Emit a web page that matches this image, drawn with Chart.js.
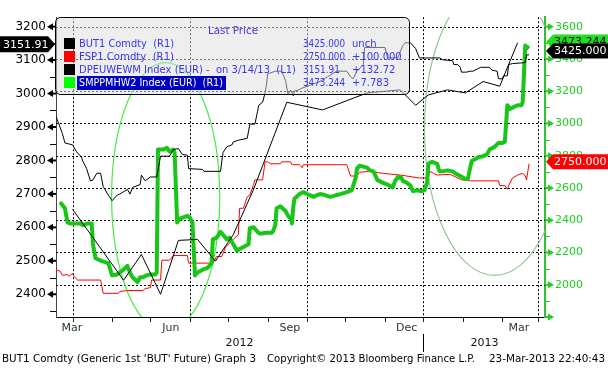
<!DOCTYPE html>
<html><head><meta charset="utf-8">
<script src="https://cdn.jsdelivr.net/npm/chart.js@4.4.1/dist/chart.umd.min.js"></script>
<style>html,body{margin:0;padding:0;background:#fff;overflow:hidden}canvas{display:block}</style>
</head><body>
<canvas id="c" width="608" height="369"></canvas>
<script>
// x values: calendar days since 2012-02-17
const butDays = [0,2,5,7,13,16,20,21,24,27,29,32,35,37,41,44,48,50,56,58,60,66,67,70,74,79,82,89,92,96,99,103,104,115,116,129,130,131,134,138,139,143,150,152,156,158,159,162,164,165,166,172,177,180,182,184,186,187,190,193,199,207,213,220,228,231,233,236,241,242,258,260,268,272,274,278,282,285,301,303,311,312,315,317,318,322,325,327,333,340,342,346,347,350,351,354,355,358,368,369,371];
const butValues = [3043,3002,2937,2879,2867,2826,2791,2767,2720,2644,2650,2691,2691,2609,2556,2521,2556,2562,2591,2562,2603,2621,2679,2644,2668,2668,2797,2797,2838,2844,2808,2803,2720,2715,2703,2703,2762,2820,2855,2867,2885,2896,2908,2996,2996,3072,3113,3131,3190,3236,3307,3324,3324,3266,3178,3207,3172,3201,3207,3219,3236,3260,3289,3324,3324,3289,3277,3324,3365,3471,3471,3406,3406,3483,3500,3500,3465,3406,3406,3395,3389,3365,3365,3348,3318,3318,3324,3324,3348,3348,3330,3324,3277,3277,3295,3295,3365,3371,3377,3425,3425];

const dpeDays = [13,53,67,82,96,111,125,139,155,181,209,244,270,282,292,307,321,335,348,362];
const dpeValues = [2654,2442,2519,2400,2561,2564,2499,2578,2714,2974,2951,3002,3011,2965,2996,3011,3002,3036,3022,3151.91];

const fspDays = [0,3,5,9,10,13,14,17,35,37,49,50,56,68,70,74,75,82,83,89,92,103,104,123,126,130,133,139,143,144,147,150,152,155,156,162,164,166,168,176,177,184,185,191,193,194,228,231,236,238,246,256,270,285,292,293,296,299,309,315,318,325,347,348,352,354,355,358,362,366,368,369,371];
const fspValues = [2087,2087,2058,2064,2052,2070,2052,2029,2029,1947,1947,1958,1964,1964,1976,1982,2029,2029,2152,2152,2181,2181,2134,2134,2175,2175,2234,2281,2310,2474,2474,2545,2556,2621,2650,2650,2762,2762,2750,2750,2762,2762,2744,2744,2726,2744,2744,2674,2674,2697,2703,2691,2680,2662,2662,2703,2691,2680,2685,2662,2650,2644,2644,2615,2615,2592,2615,2662,2680,2691,2674,2650,2750];

const smpDays = [4,7,9,11,19,21,25,28,29,31,36,41,44,48,52,56,58,60,64,66,68,71,74,78,79,80,84,87,89,92,93,95,97,103,105,107,109,111,115,119,122,123,126,129,131,134,136,139,142,144,147,151,152,155,158,160,165,169,170,172,173,176,180,182,184,185,186,187,191,194,197,202,205,207,211,215,220,223,228,232,235,236,238,241,244,246,249,252,256,260,264,266,268,271,272,275,278,280,283,287,289,291,292,295,299,300,301,303,307,311,313,317,321,323,325,326,329,331,335,338,340,344,347,350,352,354,356,362,365,366,368,369,370];
const smpValues = [2504,2474,2386,2380,2380,2369,2380,2380,2251,2164,2146,2134,2058,2064,2087,2117,2076,2046,2017,2046,2046,2058,2064,2064,2076,2838,2838,2849,2826,2838,2820,2386,2410,2427,2416,2386,2058,2076,2093,2105,2134,2281,2292,2328,2310,2281,2292,2251,2210,2222,2234,2251,2351,2357,2328,2316,2322,2322,2328,2369,2474,2486,2457,2427,2410,2380,2474,2533,2562,2574,2562,2545,2556,2562,2556,2545,2556,2562,2574,2586,2662,2720,2738,2732,2726,2709,2703,2650,2633,2621,2603,2644,2668,2662,2644,2633,2615,2580,2586,2580,2586,2633,2750,2762,2750,2720,2703,2703,2709,2703,2691,2674,2656,2656,2732,2767,2779,2791,2797,2808,2838,2855,2879,2879,2885,3113,3090,3113,3113,3131,3483,3466,3473.244];

// axes / ticks
const xMonthDays = [13,44,74,105,135,166,197,227,258,288,319,350,378];
const xGridDays = [13,105,197,288,378];
const xLabelDays = [12.5,90,183.5,275,363];
const xLabels = ['Mar','Jun','Sep','Dec','Mar'];
const yearLabelDays = [144,336];
const yearLabels = ['2012','2013'];
const yearBreakDay = 288;
const leftMajor = [2400,2500,2600,2700,2800,2900,3000,3100,3200];
const leftMinor = [2350,2450,2550,2650,2750,2850,2950,3050,3150];
const rightMajor = [1800,2000,2200,2400,2600,2800,3000,3200,3400,3600];
const rightMinor = [1900,2100,2300,2500,2700,2900,3100,3300,3500];

// legend / last price texts
const legendNames = ['BUT1 Comdty  (R1)','FSP1 Comdty  (R1)','DPEUWEWM Index (EUR) -  on 3/14/13  (L1)','SMPPMHW2 Index (EUR)  (R1)'];
const legendLast = ['3425.000','2750.000','3151.91','3473.244'];
const legendChange = ['unch','+100.000','+132.72','+7.783'];
const footerTexts = ["BUT1 Comdty (Generic 1st 'BUT' Future) Graph 3","Copyright\u00a9 2013 Bloomberg Finance L.P.","23-Mar-2013 22:40:43"];

// annotation ellipses (data units: day, right-axis value)
const annotations = [
  {cx:86, cy:2545, rx:42.4, ry:832, color:'rgb(70,236,70)'},
  {cx:344, cy:2967, rx:55, ry:909, color:'rgb(150,196,150)'}
];

const pts = (d,v)=>d.map((x,i)=>({x:x,y:v[i]}));
const FONT = 'DejaVu Sans';

function fitText(ctx, t, x, y, w){
  const m = ctx.measureText(t).width;
  ctx.save(); ctx.translate(x,y); if (w) ctx.scale(w/m,1); ctx.fillText(t,0,0); ctx.restore();
}

const deco = {
  id:'deco',
  beforeDatasetsDraw(chart){
    const {ctx, chartArea:a, scales:{x, yR}} = chart;
    ctx.save();
    ctx.strokeStyle='#000'; ctx.lineWidth=1; ctx.setLineDash([2,2]);
    ctx.beginPath();
    rightMajor.filter(v=>v>1800).forEach(v=>{const y=Math.round(yR.getPixelForValue(v))+0.5; ctx.moveTo(a.left,y); ctx.lineTo(a.right,y);});
    xGridDays.forEach(d=>{const px=Math.round(x.getPixelForValue(d))+0.5; ctx.moveTo(px,a.top); ctx.lineTo(px,a.bottom);});
    ctx.stroke();
    ctx.setLineDash([]);
    ctx.beginPath(); ctx.rect(a.left,a.top,a.right-a.left,a.bottom-a.top); ctx.clip();
    annotations.forEach(e=>{
      const cx=x.getPixelForValue(e.cx), rx=x.getPixelForValue(e.cx+e.rx)-cx;
      const cy=yR.getPixelForValue(e.cy), ry=cy-yR.getPixelForValue(e.cy+e.ry);
      ctx.strokeStyle=e.color; ctx.lineWidth=1.2;
      ctx.beginPath(); ctx.ellipse(cx,cy,rx,ry,0,0,Math.PI*2); ctx.stroke();
    });
    ctx.restore();
  },
  afterDatasetsDraw(chart){
    const ctx = chart.ctx;
    ctx.save();
    // legend box
    ctx.beginPath(); ctx.roundRect(55.5,17.5,354,77,5);
    ctx.fillStyle='rgba(222,222,222,0.5)'; ctx.fill();
    ctx.strokeStyle='#000'; ctx.lineWidth=1; ctx.stroke();
    ctx.font='10px '+FONT; ctx.textBaseline='middle'; ctx.textAlign='left';
    ctx.fillStyle='#4a36e8'; fitText(ctx,'Last Price',208,31,50);
    const rowsY=[44,57,70,83];
    const sq=['#000','#ff0000','#000','#00ff00'];
    const widths=[95,95,217,144];
    const valW=[42,42,37,42];
    rowsY.forEach((y,i)=>{
      ctx.fillStyle=sq[i]; ctx.fillRect(64,y-6,11,11);
      if(i===3){ctx.fillStyle='#0000c4'; ctx.fillRect(77,y-7,149,14); ctx.fillStyle='#fff';}
      else ctx.fillStyle='#3535ff';
      fitText(ctx,legendNames[i],79,y,widths[i]);
      ctx.fillStyle='#3535ff';
      fitText(ctx,legendLast[i],303,y,valW[i]);
      fitText(ctx,legendChange[i],352,y);
    });
    ctx.restore();
  },
  afterDraw(chart){
    const {ctx, chartArea:a, scales:{x, yL, yR}} = chart;
    ctx.save();
    // left ticks
    ctx.fillStyle='#000';
    leftMinor.forEach(v=>{const y=Math.round(yL.getPixelForValue(v)); ctx.fillRect(50,y,6,1);});
    leftMajor.forEach(v=>{const y=yL.getPixelForValue(v);
      ctx.beginPath(); ctx.moveTo(47,y); ctx.lineTo(53,y-3.5); ctx.lineTo(53,y+3.5); ctx.closePath(); ctx.fill();
      ctx.fillRect(52,y-1,4,2);});
    // right ticks
    ctx.fillStyle='#22cc22';
    rightMinor.forEach(v=>{const y=Math.round(yR.getPixelForValue(v)); ctx.fillRect(545,y,5,1);});
    rightMajor.forEach(v=>{const y=yR.getPixelForValue(v);
      ctx.fillRect(545,y-1,4,2);
      ctx.beginPath(); ctx.moveTo(548,y-3.5); ctx.lineTo(548,y+3.5); ctx.lineTo(554,y); ctx.closePath(); ctx.fill();});
    // x ticks
    ctx.fillStyle='#222';
    xMonthDays.forEach(d=>{const px=Math.round(x.getPixelForValue(d)); ctx.fillRect(px,a.bottom,1,5);});
    // year labels & break
    ctx.font='11px '+FONT; ctx.textBaseline='middle'; ctx.textAlign='center'; ctx.fillStyle='#111';
    yearLabelDays.forEach((d,i)=>ctx.fillText(yearLabels[i], x.getPixelForValue(d), 343));
    const bx=Math.round(x.getPixelForValue(yearBreakDay))+0.5;
    ctx.strokeStyle='#000'; ctx.lineWidth=1; ctx.beginPath(); ctx.moveTo(bx,334); ctx.lineTo(bx,352); ctx.stroke();
    // footer
    ctx.textAlign='left'; ctx.fillStyle='#000'; ctx.font='10px '+FONT;
    fitText(ctx,footerTexts[0],2,359,254);
    fitText(ctx,footerTexts[1],267,359,208);
    fitText(ctx,footerTexts[2],489,359,116);
    // last price tags
    ctx.font='11px '+FONT; ctx.textBaseline='middle';
    function tagR(y,t,bg,fg){
      ctx.fillStyle=bg; ctx.beginPath(); ctx.moveTo(546,y); ctx.lineTo(553,y-7.5); ctx.lineTo(608,y-7.5); ctx.lineTo(608,y+7.5); ctx.lineTo(553,y+7.5); ctx.closePath(); ctx.fill();
      ctx.fillStyle=fg; ctx.fillText(t,554,y+0.5);
    }
    const yBut=yR.getPixelForValue(butValues[butValues.length-1])-4;
    tagR(yBut-9, legendLast[3], '#22dd22', '#000');
    tagR(yBut, legendLast[0], '#000', '#fff');
    tagR(yR.getPixelForValue(fspValues[fspValues.length-1])-2, legendLast[1], '#ff0000', '#fff');
    const yD=yL.getPixelForValue(dpeValues[dpeValues.length-1])+1.5;
    ctx.fillStyle='#000'; ctx.beginPath(); ctx.moveTo(0,yD-8); ctx.lineTo(48,yD-8); ctx.lineTo(55,yD); ctx.lineTo(48,yD+8); ctx.lineTo(0,yD+8); ctx.closePath(); ctx.fill();
    ctx.fillStyle='#fff'; ctx.fillText(legendLast[2],3,yD+0.5);
    ctx.restore();
  }
};

new Chart(document.getElementById('c'), {
  type:'line',
  data:{datasets:[
    {label:'DPEUWEWM Index (EUR)', data:pts(dpeDays,dpeValues), yAxisID:'yL', borderColor:'#000', borderWidth:1, order:0},
    {label:'BUT1 Comdty', data:pts(butDays,butValues), yAxisID:'yR', borderColor:'#000', borderWidth:1, order:1},
    {label:'SMPPMHW2 Index (EUR)', data:pts(smpDays,smpValues), yAxisID:'yR', borderColor:'rgb(24,198,24)', borderWidth:4, borderJoinStyle:'round', borderCapStyle:'round', order:2},
    {label:'FSP1 Comdty', data:pts(fspDays,fspValues), yAxisID:'yR', borderColor:'#ff0000', borderWidth:1, order:3}
  ]},
  options:{
    responsive:false, animation:false, devicePixelRatio:1,
    layout:{padding:0, autoPadding:false},
    plugins:{legend:{display:false}, tooltip:{enabled:false}},
    elements:{point:{radius:0}, line:{tension:0}},
    scales:{
      x:{type:'linear', min:0, max:383.5,
        grid:{display:false, drawTicks:false}, border:{display:true, color:'#000', width:1},
        ticks:{autoSkip:false, maxRotation:0, padding:5, color:'#2a3535', font:{family:FONT, size:11}, callback:(v,i)=>xLabels[i]},
        afterBuildTicks:s=>{s.ticks=xLabelDays.map(v=>({value:v}));},
        afterFit:s=>{s.height=52;}},
      yL:{type:'linear', position:'left', min:2332, max:3228.3,
        grid:{display:false, drawTicks:false}, border:{display:true, color:'#444', width:1},
        ticks:{autoSkip:false, padding:10, color:'#000', font:{family:FONT, size:12}, callback:v=>leftMajor.includes(v)?String(v):''},
        afterBuildTicks:s=>{s.ticks=leftMajor.concat(leftMinor).sort((a,b)=>a-b).map(v=>({value:v}));},
        afterFit:s=>{s.width=56;}},
      yR:{type:'linear', position:'right', min:1800, max:3658.6,
        grid:{display:false, drawTicks:false}, border:{display:true, color:'#2fc42f', width:2},
        ticks:{autoSkip:false, padding:10, color:'#1fcf1f', font:{family:FONT, size:11}, callback:v=>(rightMajor.includes(v)&&v>1800)?String(v):''},
        afterBuildTicks:s=>{s.ticks=rightMajor.concat(rightMinor).sort((a,b)=>a-b).map(v=>({value:v}));},
        afterFit:s=>{s.width=63;}}
    }
  },
  plugins:[deco]
});
</script>
</body></html>
